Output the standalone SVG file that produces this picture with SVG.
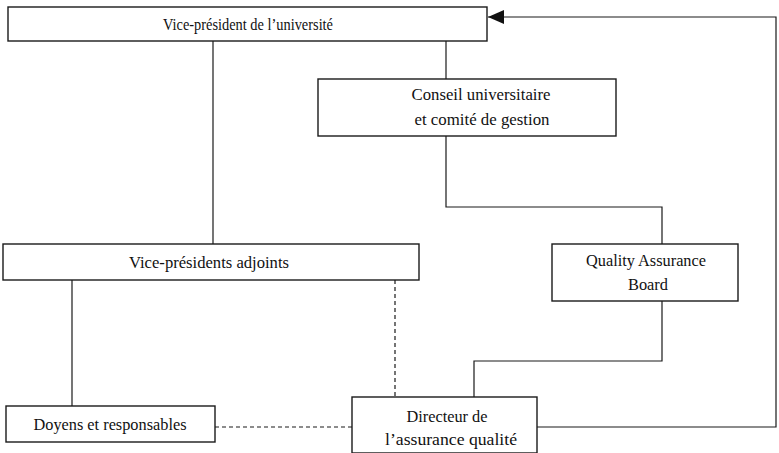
<svg xmlns="http://www.w3.org/2000/svg" width="779" height="453" viewBox="0 0 779 453">
  <style>
    .box { fill: #ffffff; stroke: #1a1a1a; stroke-width: 1.4; }
    .link { fill: none; stroke: #1a1a1a; stroke-width: 1.2; }
    .dash { fill: none; stroke: #1a1a1a; stroke-width: 1.2; stroke-dasharray: 4 3; }
    text { font-family: "Liberation Serif", "DejaVu Serif", serif; font-size: 17px; fill: #111111; text-anchor: middle; }
  </style>
  <defs>
    <marker id="arrow" markerWidth="16" markerHeight="14" refX="16" refY="7" orient="auto" markerUnits="userSpaceOnUse">
      <path d="M0,0 L16,7 L0,14 Z" fill="#111111"/>
    </marker>
  </defs>

  <!-- connectors -->
  <g id="connectors">
    <path class="link" d="M213,41 V244"/>
    <path class="link" d="M446,41 V79"/>
    <path class="link" d="M446,136 V207 H662 V244"/>
    <path class="link" d="M662,301 V361 H474 V397"/>
    <path class="link" d="M72,280 V406"/>
    <path class="dash" d="M395,280 V397"/>
    <path class="dash" d="M215,427 H352"/>
    <path class="link" d="M537,427 H776 V17 H488" marker-end="url(#arrow)"/>
  </g>

  <g id="vp-universite">
    <rect class="box" x="8" y="7" width="479" height="34"/>
    <text x="248" y="30" textLength="170" lengthAdjust="spacingAndGlyphs">Vice-président de l’université</text>
  </g>

  <g id="conseil">
    <rect class="box" x="318" y="79" width="298" height="57"/>
    <text x="481" y="100" textLength="139" lengthAdjust="spacingAndGlyphs">Conseil universitaire</text>
    <text x="482" y="125" textLength="135" lengthAdjust="spacingAndGlyphs">et comité de gestion</text>
  </g>

  <g id="vp-adjoints">
    <rect class="box" x="3" y="244" width="416" height="36"/>
    <text x="209" y="268" textLength="160" lengthAdjust="spacingAndGlyphs">Vice-présidents adjoints</text>
  </g>

  <g id="qa-board">
    <rect class="box" x="552" y="244" width="186" height="57"/>
    <text x="646" y="266" textLength="120" lengthAdjust="spacingAndGlyphs">Quality Assurance</text>
    <text x="648" y="290" textLength="40" lengthAdjust="spacingAndGlyphs">Board</text>
  </g>

  <g id="doyens">
    <rect class="box" x="6" y="406" width="209" height="36"/>
    <text x="110" y="430" textLength="153" lengthAdjust="spacingAndGlyphs">Doyens et responsables</text>
  </g>

  <g id="directeur">
    <rect class="box" x="352" y="397" width="185" height="56"/>
    <text x="447" y="422" textLength="81" lengthAdjust="spacingAndGlyphs">Directeur de</text>
    <text x="451" y="445" textLength="132" lengthAdjust="spacingAndGlyphs">l’assurance qualité</text>
  </g>
</svg>
